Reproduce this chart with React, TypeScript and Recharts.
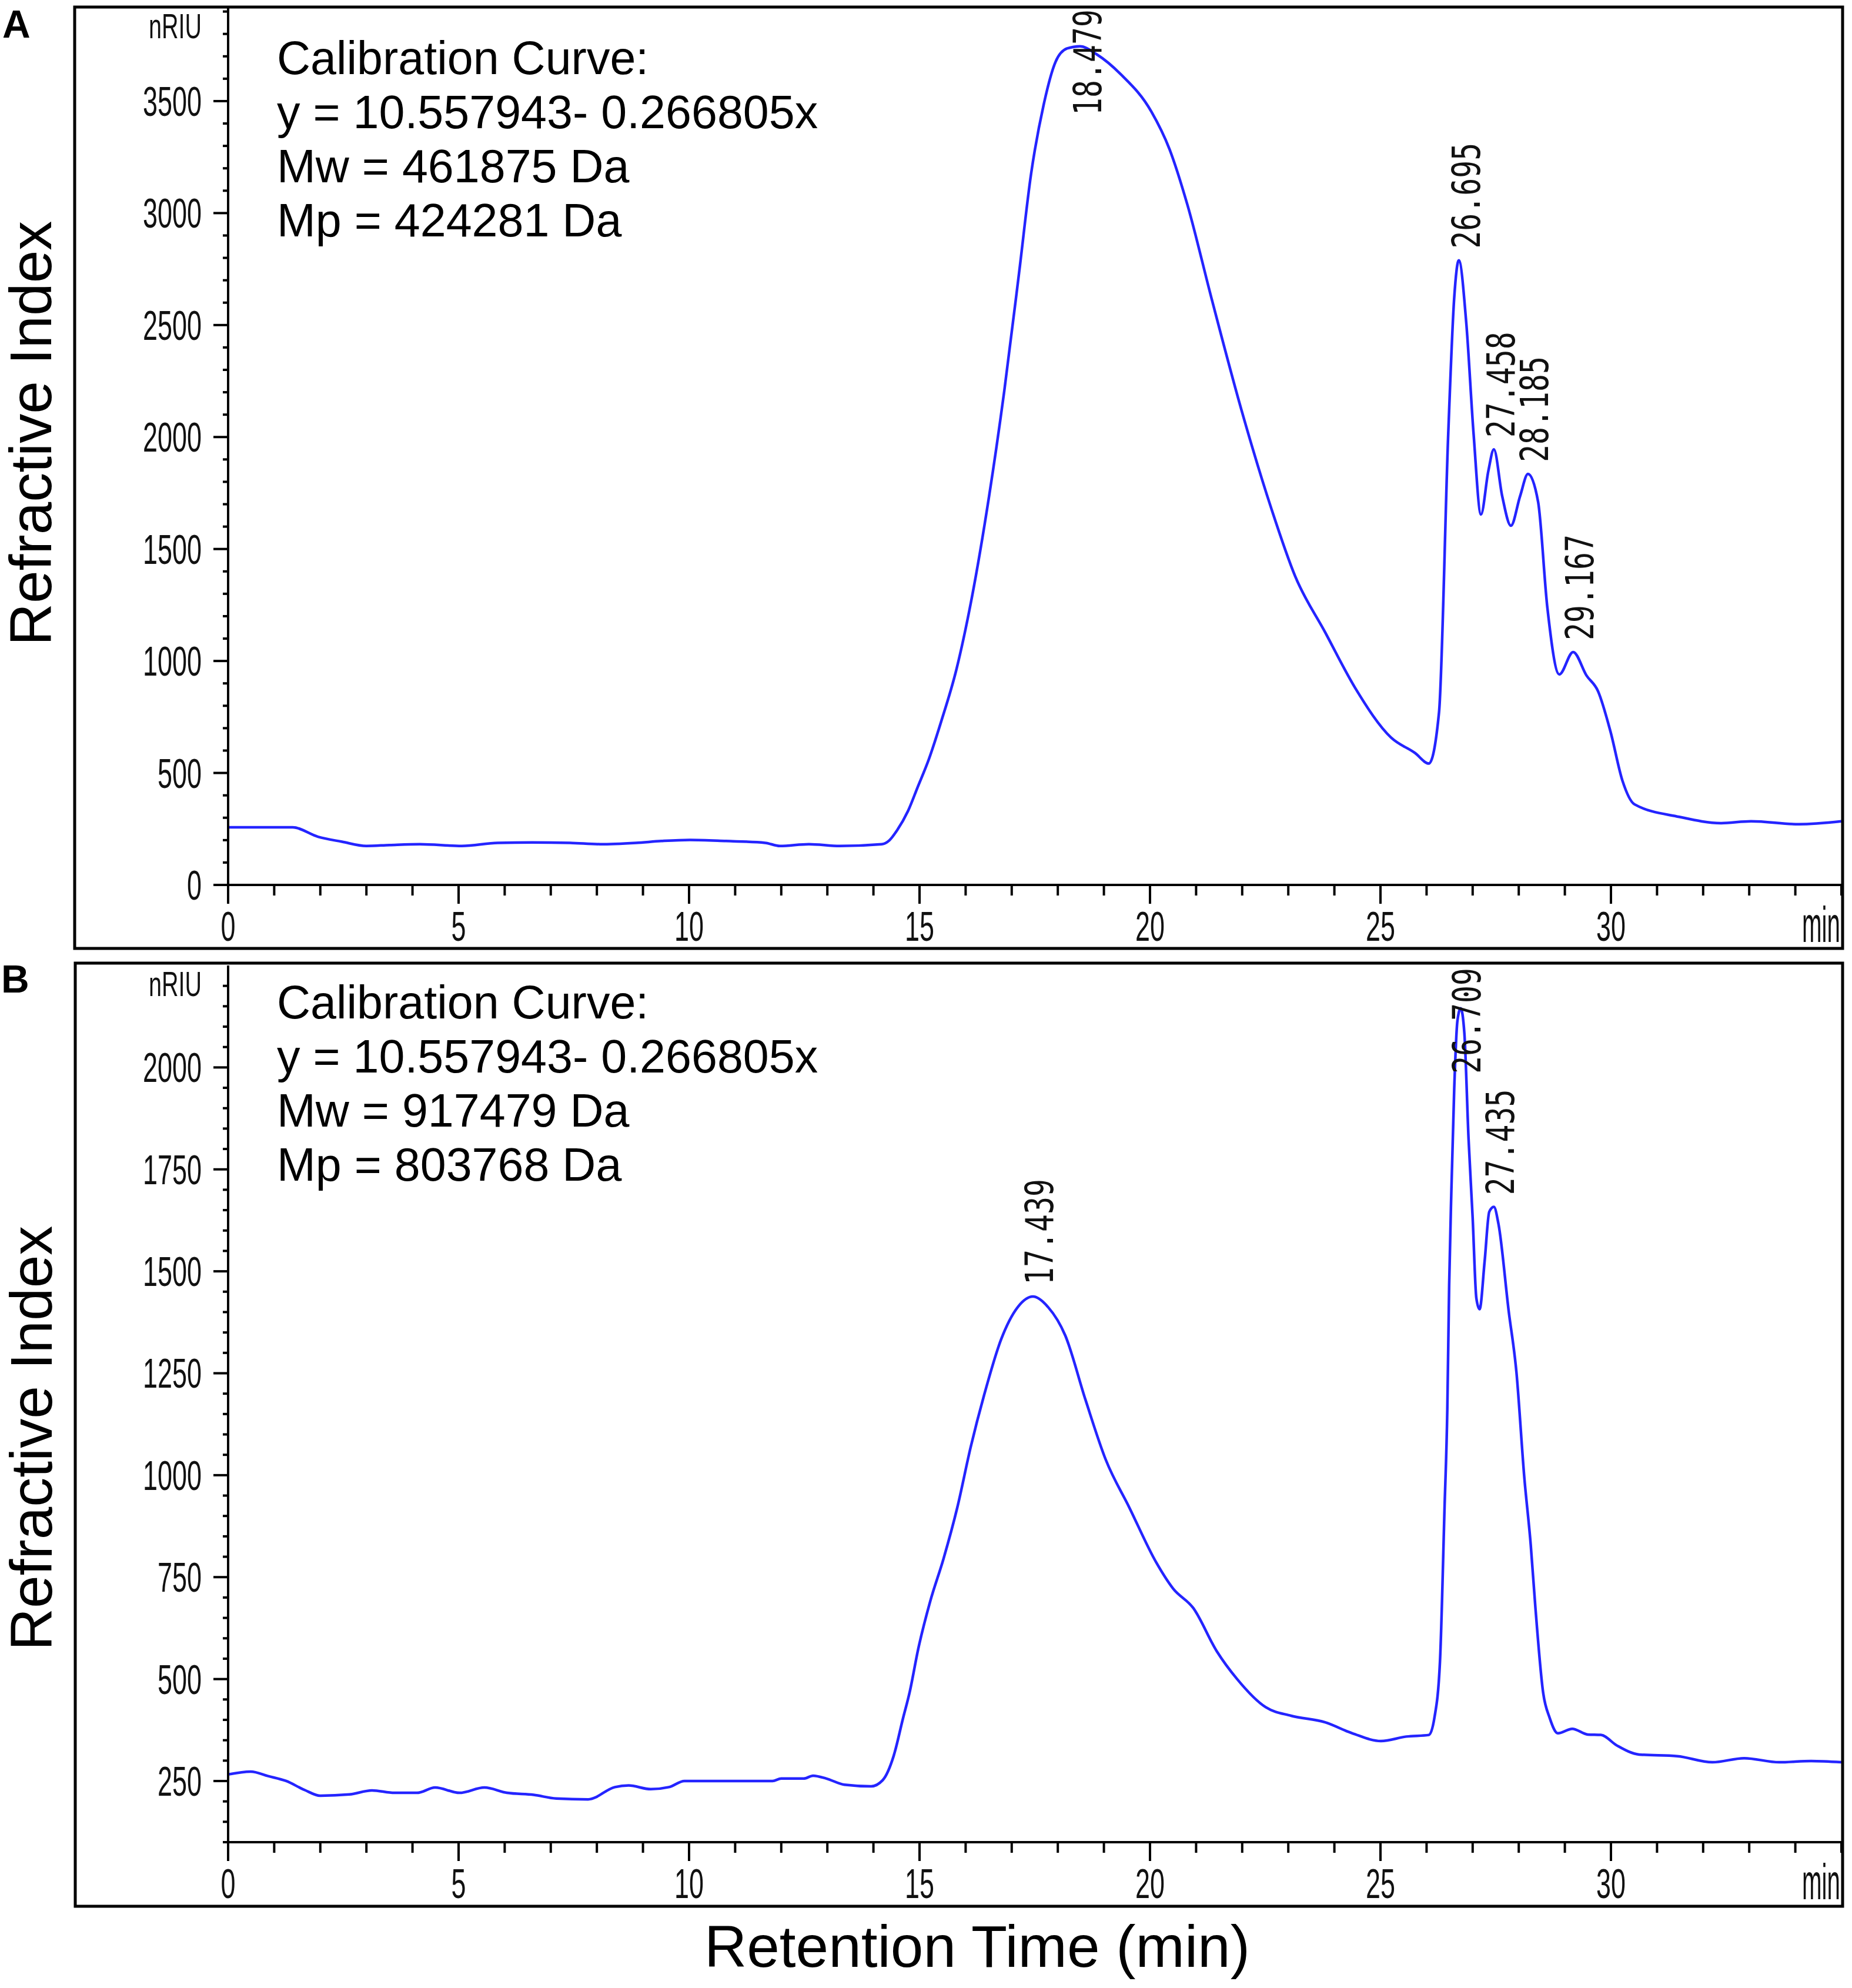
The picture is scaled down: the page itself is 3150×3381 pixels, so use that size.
import React from 'react';
import { ComposedChart, Line, Scatter, XAxis, YAxis } from 'recharts';

// Panel A trace (retention time in min, signal in nRIU)
const timeA = [
  0, 1.4, 1.95, 2.47, 3.0, 3.5, 4.16, 5.07, 5.85, 6.6, 7.42, 8.07, 8.85, 9.4, 10.02, 10.8, 11.65, 11.97,
  12.6, 13.27, 14.18, 14.35, 14.51, 14.75, 14.96, 15.2, 15.47, 15.8, 16.12, 16.51, 16.84, 17.16, 17.42,
  17.69, 17.95, 18.2, 18.48, 18.85, 19.37, 20.03, 20.42, 20.81, 21.33, 21.98, 22.63, 23.15, 23.8, 24.45,
  25.23, 25.75, 26.05, 26.27, 26.47, 26.6, 26.7, 26.86, 27.02, 27.18, 27.34, 27.46, 27.64, 27.83, 28.03,
  28.2, 28.42, 28.62, 28.88, 29.18, 29.47, 29.72, 29.99, 30.25, 30.51, 31.48, 32.39, 33.04, 34.08, 35,
];
const signalA = [
  257, 257, 215, 193, 174, 178, 182, 174, 188, 190, 188, 182, 188, 196, 201, 196, 188, 174,
  182, 174, 182, 200, 243, 330, 437, 560, 730, 962, 1267, 1737, 2208, 2734, 3175,
  3481, 3675, 3735, 3745, 3708, 3619, 3453, 3287, 3038, 2623, 2124, 1682, 1378, 1128, 880,
  658, 589, 542, 770, 2014, 2623, 2789, 2513, 2014, 1654, 1848, 1945, 1737, 1604, 1737,
  1835, 1710, 1239, 940, 1040, 935, 865, 685, 465, 360, 304, 276, 284, 271, 284,
];

// Panel B trace
const timeB = [
  0, 0.49, 0.87, 1.26, 1.66, 2.0, 2.63, 3.12, 3.61, 4.1, 4.49, 5.02, 5.56, 6.05, 6.63, 7.12, 7.81, 8.39,
  8.69, 9.17, 9.56, 9.9, 11.81, 12.0, 12.49, 12.69, 12.98, 13.37, 13.95, 14.2, 14.44, 14.64, 14.79, 14.97,
  15.23, 15.52, 15.82, 16.11, 16.4, 16.77, 17.13, 17.46, 17.79, 18.16, 18.6, 19.04, 19.55, 20.14, 20.5,
  20.94, 21.45, 21.89, 22.51, 23.06, 23.8, 24.39, 25.01, 25.56, 26.05, 26.17, 26.29, 26.39, 26.45, 26.49,
  26.54, 26.6, 26.67, 26.74, 26.82, 26.91, 27.0, 27.08, 27.15, 27.26, 27.36, 27.46, 27.56, 27.78, 27.95,
  28.12, 28.26, 28.36, 28.53, 28.67, 28.85, 29.16, 29.5, 29.78, 30.13, 30.61, 31.44, 32.2, 32.89, 33.65,
  34.34, 35,
];
const signalB = [
  266, 273, 262, 250, 228, 214, 217, 227, 221, 221, 234, 221, 234, 221, 216, 207, 205, 235,
  239, 230, 235, 250, 250, 256, 256, 263, 256, 241, 237, 252, 312, 403, 470, 573,
  690, 795, 921, 1069, 1196, 1333, 1412, 1438, 1412, 1343, 1185, 1038, 921, 785, 722,
  674, 568, 500, 431, 410, 394, 367, 348, 359, 363, 405, 541, 920, 1161, 1465,
  1706, 1948, 2115, 2145, 2084, 1827, 1631, 1434, 1407, 1525, 1646, 1658, 1616, 1404, 1252,
  995, 829, 677, 466, 405, 367, 378, 364, 363, 337, 315, 311, 296, 306, 296,
  299, 296,
];

// labelled peaks
const peakTimesA = [18.479, 26.695, 27.458, 28.185, 29.167];
const peakHeightsA = [3745, 2789, 1945, 1835, 1040];
const peakTimesB = [17.439, 26.709, 27.435];
const peakHeightsB = [1438, 2145, 1658];

// axes
const xLabelTicks = [0, 5, 10, 15, 20, 25, 30];
const xTicks = Array.from({ length: 36 }, (_, i) => i);
const yTicksA = Array.from({ length: 40 }, (_, i) => i * 100);
const yTicksB = Array.from({ length: 43 }, (_, i) => 100 + i * 50);

const calibA = ['Calibration Curve:', 'y = 10.557943- 0.266805x', 'Mw = 461875 Da', 'Mp = 424281 Da'];
const calibB = ['Calibration Curve:', 'y = 10.557943- 0.266805x', 'Mw = 917479 Da', 'Mp = 803768 Da'];

const toRows = (ts: number[], vs: number[]) => ts.map((t, i) => ({ t, v: vs[i] }));

const TICK_FONT = 'Liberation Sans, Arial, sans-serif';

function XTick(props: any) {
  const { x, y, payload } = props;
  const v = payload.value;
  const major = v % 5 === 0 && v < 35;
  const isLabel = xLabelTicks.includes(v);
  return (
    <g>
      <line x1={x} x2={x} y1={y} y2={y + (major ? 32 : 18)} stroke="#000" strokeWidth={4} />
      {isLabel && (
        <text x={x} y={y + 95} textAnchor="middle" fontFamily={TICK_FONT} fontSize={70}
          textLength={25 * String(v).length} lengthAdjust="spacingAndGlyphs" fill="#111">
          {v}
        </text>
      )}
      {v === 35 && (
        <text x={x - 2} y={y + 97} textAnchor="end" fontFamily={TICK_FONT} fontSize={86}
          textLength={65} lengthAdjust="spacingAndGlyphs" fill="#111">
          min
        </text>
      )}
    </g>
  );
}

function makeYTick(step: number) {
  return function YTick(props: any) {
    const { x, y, payload } = props;
    const major = payload.value % step === 0;
    const s = String(payload.value);
    return (
      <g>
        <line x1={x - (major ? 25 : 9)} x2={x} y1={y} y2={y} stroke="#000" strokeWidth={4} />
        {major && (
          <text x={x - 45} y={y + 25} textAnchor="end" fontFamily={TICK_FONT} fontSize={70}
            textLength={25 * s.length} lengthAdjust="spacingAndGlyphs" fill="#111">
            {s}
          </text>
        )}
      </g>
    );
  };
}

function makePeakLabel(plotTop: number) {
  return function PeakLabel(props: any) {
    const { cx, cy, payload } = props;
    const len = 180;
    let bottom = cy - 20;
    if (bottom - len < plotTop + 4) bottom = plotTop + 4 + len;
    return (
      <text transform={`translate(${cx + 12}, ${bottom}) rotate(-90)`} dy="0.36em" textAnchor="start"
        fontFamily="DejaVu Sans Mono, Liberation Mono, monospace" fontSize={66}
        textLength={len} lengthAdjust="spacingAndGlyphs" fill="#111">
        {payload.t.toFixed(3)}
      </text>
    );
  };
}

interface PanelProps {
  top: number;
  height: number;
  marginTop: number;
  marginBottom: number;
  rows: { t: number; v: number }[];
  peaks: { t: number; v: number }[];
  yDomain: [number, number];
  yTicks: number[];
  yStep: number;
}

function Panel({ top, height, marginTop, marginBottom, rows, peaks, yDomain, yTicks, yStep }: PanelProps) {
  return (
    <div style={{ position: 'absolute', left: 0, top }}>
      <ComposedChart width={3150} height={height} data={rows}
        margin={{ top: marginTop, right: 18, bottom: marginBottom, left: 0 }}>
        <XAxis type="number" dataKey="t" domain={[0, 35]} ticks={xTicks} interval={0}
          allowDataOverflow height={108} tickSize={0} tickMargin={0} tickLine={false}
          axisLine={{ stroke: '#000', strokeWidth: 4 }} tick={<XTick />} />
        <YAxis type="number" domain={yDomain} ticks={yTicks} interval={0} allowDataOverflow
          width={388} tickSize={0} tickMargin={0} tickLine={false}
          axisLine={{ stroke: '#000', strokeWidth: 4 }} tick={makeYTick(yStep)} />
        <Line type="monotone" dataKey="v" stroke="#2424ff" strokeWidth={4.5} dot={false}
          isAnimationActive={false} />
        <Scatter data={peaks} dataKey="v" shape={makePeakLabel(marginTop)} isAnimationActive={false} />
      </ComposedChart>
    </div>
  );
}

export default function App() {
  const rowsA = toRows(timeA, signalA);
  const rowsB = toRows(timeB, signalB);
  const peaksA = toRows(peakTimesA, peakHeightsA);
  const peaksB = toRows(peakTimesB, peakHeightsB);
  const font = 'Liberation Sans, Arial, sans-serif';
  return (
    <div style={{ position: 'absolute', left: 0, top: 0, width: 3150, height: 3381, background: '#fff', overflow: 'hidden' }}>
      <Panel top={0} height={1640} marginTop={12} marginBottom={27} rows={rowsA} peaks={peaksA}
        yDomain={[0, 3920]} yTicks={yTicksA} yStep={500} />
      <Panel top={1600} height={1700} marginTop={42} marginBottom={59} rows={rowsB} peaks={peaksB}
        yDomain={[100, 2250]} yTicks={yTicksB} yStep={250} />
      <svg width={3150} height={3381} style={{ position: 'absolute', left: 0, top: 0, pointerEvents: 'none' }}>
        <rect x={127} y={12} width={3007} height={1601} fill="none" stroke="#000" strokeWidth={5} />
        <rect x={128} y={1638} width={3006} height={1604} fill="none" stroke="#000" strokeWidth={5} />
        <text x={4} y={64} fontFamily={font} fontWeight="bold" fontSize={66}>A</text>
        <text x={2} y={1688} fontFamily={font} fontWeight="bold" fontSize={66}>B</text>
        <text x={343} y={65} textAnchor="end" fontFamily={font} fontSize={60} textLength={90}
          lengthAdjust="spacingAndGlyphs" fill="#111">nRIU</text>
        <text x={343} y={1694} textAnchor="end" fontFamily={font} fontSize={60} textLength={90}
          lengthAdjust="spacingAndGlyphs" fill="#111">nRIU</text>
        <text transform="translate(87, 737) rotate(-90)" textAnchor="middle" fontFamily={font} fontSize={100}>
          Refractive Index
        </text>
        <text transform="translate(88, 2446) rotate(-90)" textAnchor="middle" fontFamily={font} fontSize={100}>
          Refractive Index
        </text>
        <text x={1662} y={3345} textAnchor="middle" fontFamily={font} fontSize={100}>Retention Time (min)</text>
        {calibA.map((s, i) => (
          <text key={'a' + i} x={471} y={126 + i * 92} fontFamily={font} fontSize={79}>{s}</text>
        ))}
        {calibB.map((s, i) => (
          <text key={'b' + i} x={471} y={1732 + i * 92} fontFamily={font} fontSize={79}>{s}</text>
        ))}
      </svg>
    </div>
  );
}
